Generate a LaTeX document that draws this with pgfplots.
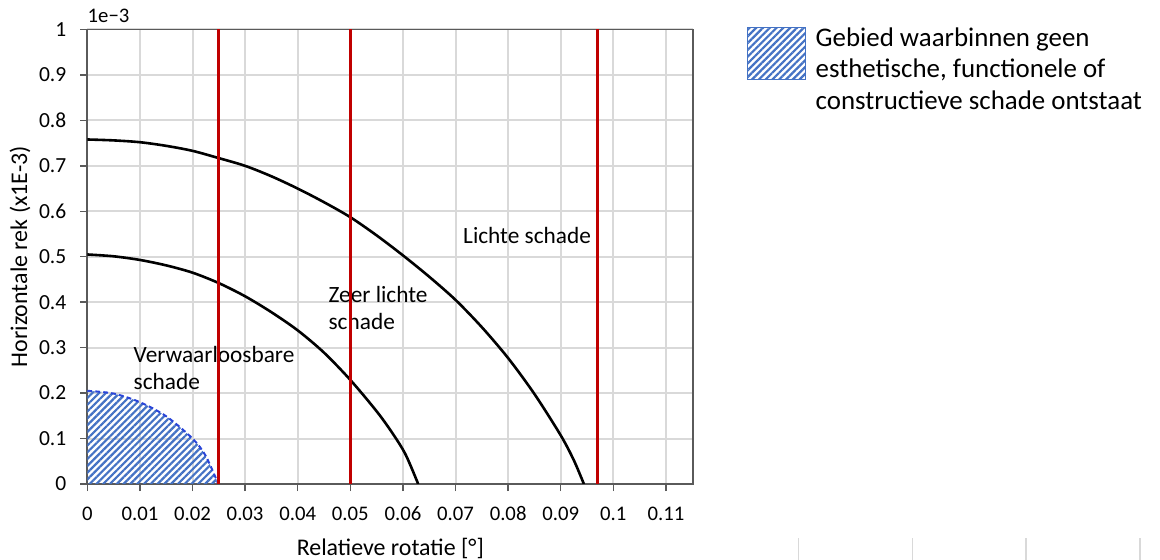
\documentclass[border=0pt]{standalone}
\usepackage{fontspec}
\setmainfont{Carlito}
\usepackage{pgfplots}
\pgfplotsset{compat=1.18}
\usetikzlibrary{patterns.meta}

\definecolor{gridgrey}{HTML}{D9D9D9}
\definecolor{spinegrey}{HTML}{5A5A5A}
\definecolor{limitred}{HTML}{C00000}
\definecolor{hatchblue}{HTML}{4472C4}
\definecolor{edgeblue}{HTML}{2A45D8}

% damage class boundaries (horizontal strain in units of 1e-3)
\pgfplotstableread{
x       y
0       0.758
0.005   0.756
0.010   0.752
0.015   0.744
0.020   0.733
0.025   0.717
0.030   0.700
0.035   0.677
0.040   0.650
0.045   0.620
0.050   0.587
0.055   0.547
0.060   0.503
0.065   0.456
0.070   0.405
0.075   0.345
0.080   0.277
0.085   0.198
0.090   0.107
0.0925  0.052
0.0944  0
}\lichte

\pgfplotstableread{
x       y
0       0.505
0.005   0.501
0.010   0.493
0.015   0.481
0.020   0.465
0.025   0.442
0.030   0.413
0.035   0.378
0.040   0.338
0.045   0.289
0.050   0.229
0.055   0.160
0.058   0.112
0.0605  0.065
0.0629  0
}\zeerlichte

\pgfplotstableread{
x       y
0       0.205
0.005   0.199
0.010   0.180
0.015   0.149
0.020   0.100
0.0225  0.062
0.0249  0
}\verwaarloosbaar

\begin{document}
\begin{tikzpicture}
\useasboundingbox (0,0) rectangle (580bp,280bp);
\begin{axis}[
  at={(43.65bp,38bp)}, anchor=south west,
  scale only axis, width=303bp, height=227.25bp,
  xmin=0, xmax=0.1152, ymin=0, ymax=1,
  clip mode=individual,
  xtick={0,0.01,0.02,0.03,0.04,0.05,0.06,0.07,0.08,0.09,0.1,0.11},
  ytick={0,0.1,0.2,0.3,0.4,0.5,0.6,0.7,0.8,0.9,1},
  grid=major, grid style={gridgrey, line width=1bp},
  axis line style={spinegrey, line width=0.9bp},
  tick align=outside, xtick pos=bottom, ytick pos=left,
  major tick length=3.5bp, tick style={spinegrey, line width=0.7bp},
  /pgf/number format/assume math mode=true,
  xticklabel style={font=\fontsize{10.4}{12}\selectfont,
    /pgf/number format/fixed, /pgf/number format/precision=2,
    anchor=base, yshift=-14.5bp},
  yticklabel style={font=\fontsize{10.8}{12}\selectfont,
    /pgf/number format/fixed, /pgf/number format/precision=1,
    xshift=-3.5bp},
  xlabel={Relatieve rotatie [°]},
  ylabel={Horizontale rek (x1E-3)},
  label style={font=\fontsize{12}{14}\selectfont},
  xlabel style={at={(axis description cs:0.5,-0.1408)}, anchor=center},
  ylabel style={at={(axis description cs:-0.111,0.5)}, anchor=center},
  legend style={at={(axis description cs:1.088,1.0137)}, anchor=north west,
    draw=none, fill=none, inner sep=0pt,
    font=\fontsize{13.5}{15.75}\selectfont,
    cells={align=left},
    /tikz/every odd column/.append style={column sep=2.75bp}},
  legend cell align=left,
]

% area without aesthetic, functional or structural damage
\addplot[draw=none, smooth, pattern={Lines[angle=45,distance=2.4bp,line width=1.1bp]},
  pattern color=hatchblue,
  legend image code/.code={
    \draw[pattern={Lines[angle=45,distance=2.4bp,line width=1.1bp]},
      pattern color=hatchblue, draw=hatchblue, line width=0.6bp]
      (0bp,-5bp) rectangle (29bp,21bp);}]
  table[x=x,y=y] {\verwaarloosbaar} \closedcycle;
\addlegendentry{Gebied waarbinnen geen\\esthetische, functionele of\\constructieve schade ontstaat}

\addplot[forget plot, smooth, edgeblue, line width=1bp, dash pattern=on 2.4bp off 1.6bp]
  table[x=x,y=y] {\verwaarloosbaar};

\addplot[forget plot, black, line width=1.3bp, smooth] table[x=x,y=y] {\zeerlichte};
\addplot[forget plot, black, line width=1.3bp, smooth] table[x=x,y=y] {\lichte};

\node[font=\fontsize{11.7}{13.4}\selectfont, inner sep=0pt, anchor=center]
  at (axis cs:0.0836,0.547) {Lichte schade};
\node[font=\fontsize{11.7}{13.4}\selectfont, inner sep=0pt, anchor=west, align=left]
  at (axis cs:0.0458,0.387) {Zeer lichte\\schade};
\node[font=\fontsize{11.7}{13.4}\selectfont, inner sep=0pt, anchor=west, align=left]
  at (axis cs:0.00875,0.256) {Verwaarloosbare\\schade};

% rotation limits of the damage classes
\addplot[forget plot, limitred, line width=1.5bp] coordinates {(0.025,0) (0.025,1)};
\addplot[forget plot, limitred, line width=1.5bp] coordinates {(0.05,0) (0.05,1)};
\addplot[forget plot, limitred, line width=1.5bp] coordinates {(0.097,0) (0.097,1)};

\node[font=\fontsize{10.4}{12}\selectfont, inner sep=0pt, anchor=base west]
  at ([yshift=3.25bp]rel axis cs:0,1) {1e−3};
\end{axis}
\foreach \xx in {399.15,456.15,513,570}
  \draw[gridgrey, line width=0.8bp] (\xx bp,0) -- (\xx bp,11bp);
\end{tikzpicture}
\end{document}
